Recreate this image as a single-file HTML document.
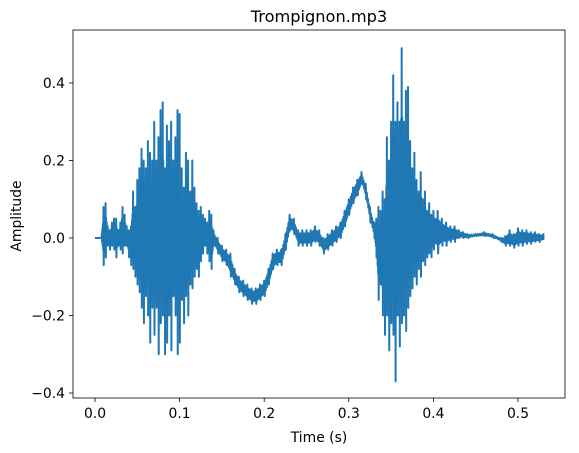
<!DOCTYPE html>
<html><head><meta charset="utf-8">
<style>
body{margin:0;background:#fff;}
svg{display:block;font-family:"DejaVu Sans","Liberation Sans",sans-serif;}
</style></head>
<body>
<svg id="chart" width="579" height="453" viewBox="0 0 579 453">
  <rect x="73" y="30" width="492" height="368" fill="#fff" stroke="#000" stroke-width="0.8"/>
  <text x="319" y="22" font-size="16.2" text-anchor="middle">Trompignon.mp3</text>
  <text x="319" y="442" font-size="13.9" text-anchor="middle">Time (s)</text>
  <text x="21" y="216" font-size="13.9" text-anchor="middle" transform="rotate(-90 21 216)">Amplitude</text>
  <g id="ticks"></g>
  <g id="marks"></g>
</svg>
<script>
const times = [0,0.005,0.0075,0.01,0.0125,0.015,0.0175,0.02,0.0225,0.025,0.0275,0.03,0.0325,0.035,0.0375,
0.04,0.0425,0.045,0.0475,0.05,0.0525,0.055,0.0575,0.06,0.0625,0.065,0.0675,0.07,0.0725,0.075,0.0775,0.08,0.0825,0.085,0.0875,0.09,0.0925,0.095,0.0975,0.1,0.1025,0.105,0.1075,0.11,0.1125,0.115,0.1175,0.12,0.1225,0.125,0.1275,0.13,0.1325,0.135,0.1375,
0.14,0.145,0.15,0.155,0.16,0.165,0.17,0.175,0.18,0.185,0.19,0.195,0.2,0.205,0.21,0.215,0.22,0.225,0.23,0.235,0.24,0.245,0.25,0.255,0.26,0.265,0.27,0.275,0.28,0.285,0.29,0.295,0.3,0.305,0.31,0.315,0.32,0.325,0.33,
0.3325,0.335,0.3375,0.34,0.3425,0.345,0.3475,0.35,0.3525,0.355,0.3575,0.36,0.3625,0.365,0.3675,0.37,0.3725,0.375,0.3775,0.38,0.3825,0.385,0.3875,0.39,0.3925,0.395,0.3975,0.4,
0.405,0.41,0.415,0.42,0.425,0.43,0.435,0.44,0.45,0.46,0.47,0.48,0.485,0.49,0.495,0.5,0.505,0.51,0.515,0.52,0.525,0.53];
const upper = [0,0,0,0.08,0.09,0.03,0.02,0.04,0.05,0.05,0.02,0.04,0.08,0.06,0.03,
0.02,0.03,0.12,0.08,0.15,0.18,0.23,0.2,0.18,0.25,0.22,0.2,0.3,0.2,0.26,0.33,0.35,0.18,0.29,0.25,0.3,0.2,0.26,0.33,0.32,0.18,0.13,0.22,0.2,0.12,0.2,0.13,0.09,0.07,0.08,0.06,0.05,0.04,0.07,0.06,
0.02,0.0,-0.02,-0.03,-0.04,-0.08,-0.10,-0.11,-0.12,-0.13,-0.13,-0.12,-0.11,-0.08,-0.04,-0.03,-0.03,0.01,0.06,0.05,0.02,0.02,0.02,0.02,0.03,0.02,0.0,0.01,0.02,0.03,0.04,0.07,0.10,0.13,0.15,0.17,0.14,0.08,0.04,
0.05,0.08,0.07,0.12,0.1,0.26,0.2,0.3,0.42,0.3,0.35,0.3,0.49,0.3,0.38,0.39,0.25,0.18,0.22,0.15,0.12,0.17,0.1,0.12,0.07,0.09,0.06,0.07,
0.07,0.05,0.04,0.03,0.03,0.02,0.015,0.01,0.01,0.015,0.01,0.0,0.005,0.02,0.01,0.025,0.02,0.02,0.015,0.015,0.01,0.01];
const lower = [0,0,0,-0.07,-0.05,-0.02,-0.03,-0.02,-0.03,-0.05,-0.02,-0.03,-0.04,-0.02,-0.02,
-0.05,-0.07,-0.08,-0.1,-0.12,-0.14,-0.18,-0.22,-0.15,-0.2,-0.27,-0.18,-0.25,-0.18,-0.3,-0.22,-0.2,-0.3,-0.27,-0.2,-0.29,-0.15,-0.2,-0.3,-0.27,-0.16,-0.22,-0.15,-0.2,-0.12,-0.13,-0.1,-0.08,-0.1,-0.06,-0.04,-0.02,-0.04,-0.06,-0.08,
-0.02,-0.04,-0.06,-0.07,-0.10,-0.12,-0.14,-0.15,-0.16,-0.17,-0.17,-0.16,-0.15,-0.12,-0.08,-0.07,-0.07,-0.03,0.02,0.01,-0.02,-0.02,-0.02,-0.02,-0.01,-0.02,-0.04,-0.03,-0.02,-0.01,0.0,0.03,0.06,0.09,0.11,0.14,0.10,0.04,0.0,
-0.05,-0.16,-0.12,-0.2,-0.25,-0.2,-0.29,-0.22,-0.25,-0.37,-0.2,-0.28,-0.22,-0.2,-0.24,-0.18,-0.15,-0.13,-0.1,-0.12,-0.08,-0.1,-0.06,-0.07,-0.05,-0.04,-0.05,-0.03,
-0.04,-0.02,-0.02,-0.01,-0.01,0.0,0.0,0.0,0.005,0.005,0.0,-0.01,-0.02,-0.02,-0.025,-0.02,-0.02,-0.015,-0.015,-0.01,-0.01,-0.005];
const xTicks = [0.0,0.1,0.2,0.3,0.4,0.5];
const yTicks = [-0.4,-0.2,0.0,0.2,0.4];

const NS="http://www.w3.org/2000/svg";
const xs = t => 95 + 846*t;
const ys = v => 238 - 387.5*v;
const tg = document.getElementById('ticks');
const mg = document.getElementById('marks');
function mk(tag, attrs, parent){const e=document.createElementNS(NS,tag);for(const k in attrs)e.setAttribute(k,attrs[k]);parent.appendChild(e);return e;}
xTicks.forEach(t=>{
  const l=mk('line',{x1:xs(t),x2:xs(t),y1:398,y2:402,stroke:'#000','stroke-width':0.8},tg);
  
  
  const tx=mk('text',{x:xs(t),y:418,'font-size':13.9,'text-anchor':'middle'},tg);
  tx.textContent=t.toFixed(1);
  
  
});
yTicks.forEach(v=>{
  const l=mk('line',{x1:69,x2:73,y1:ys(v),y2:ys(v),stroke:'#000','stroke-width':0.8},tg);
  
  
  const tx=mk('text',{x:65,y:ys(v)+5,'font-size':13.9,'text-anchor':'end'},tg);
  tx.textContent=(v<0?'\u2212':'')+Math.abs(v).toFixed(1);
  
  
});
// dense zigzag: full swing at each sample, plus damped inner swings toward the next sample
const SUB=4;
let z=[];
for(let i=0;i<times.length;i++){
  const t=times[i];
  const j=Math.min(i+1,times.length-1);
  const tn=times[j];
  const mid=(upper[i]+lower[i])/2, midn=(upper[j]+lower[j])/2;
  for(let k=0;k<SUB;k++){
    const f=k/SUB;
    const tt=t+(tn-t)*f;
    const u=upper[i]+(upper[j]-upper[i])*f, lo=lower[i]+(lower[j]-lower[i])*f;
    const m=mid+(midn-mid)*f;
    const s = k===0 ? 1 : 0.6;
    z.push(xs(tt).toFixed(2)+','+ys(m+(u-m)*s).toFixed(2));
    z.push(xs(tt+(tn-t)/(2*SUB)).toFixed(2)+','+ys(m+(lo-m)*(k===0?1:s)).toFixed(2));
    if(i===times.length-1)break;
  }
}
const zl=mk('polyline',{points:z.join(' '),fill:'none',stroke:'#1f77b4','stroke-width':2,'stroke-linejoin':'round'},mg);


</script>
</body></html>
